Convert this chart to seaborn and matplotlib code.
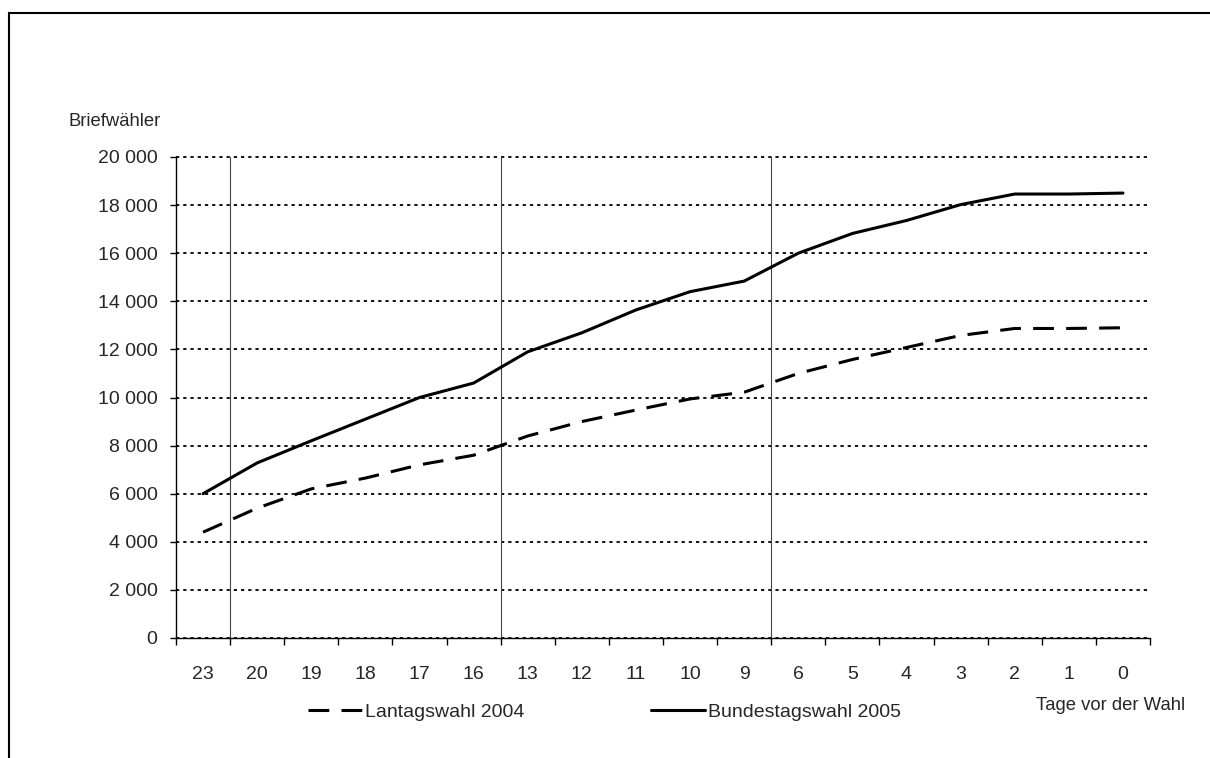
import matplotlib
matplotlib.use('Agg')
import matplotlib.pyplot as plt
import seaborn as sns
from matplotlib.patches import Rectangle

# data
tage = ['23', '20', '19', '18', '17', '16', '13', '12', '11', '10', '9', '6', '5', '4', '3', '2', '1', '0']
landtag_2004 = [4400, 5400, 6200, 6650, 7200, 7600, 8400, 9000, 9480, 9940, 10220,
                11000, 11580, 12080, 12580, 12870, 12870, 12900]
bundestag_2005 = [6000, 7280, 8200, 9100, 10000, 10600, 11900, 12690, 13640, 14400, 14840,
                  16000, 16820, 17360, 18020, 18460, 18460, 18500]
y_ticks = list(range(0, 20001, 2000))
week_breaks = [0.5, 5.5, 10.5]

sns.set_style('white')
plt.rcParams['font.family'] = ['Liberation Sans', 'DejaVu Sans']

W, H = 1210, 758
fig = plt.figure(figsize=(W / 100, H / 100), dpi=100)
ax = fig.add_axes([176 / W, 1 - 638 / H, (1150 - 176) / W, (638 - 157) / H])

#the two curves
sns.lineplot(x=tage, y=landtag_2004, color='black', linewidth=2.2, linestyle=(0, (6.8, 4.0)),
             sort=False, label='Lantagswahl 2004', ax=ax)
sns.lineplot(x=tage, y=bundestag_2005, color='black', linewidth=2.2, sort=False,
             label='Bundestagswahl 2005', ax=ax)

#thin vertical separators between the weeks
for xb in week_breaks:
    ax.axvline(xb, color='#444444', linewidth=0.8, zorder=1)

#axes
ax.set_xlim(-0.5, len(tage) - 0.5)
ax.set_ylim(0, 20000)
ax.set_yticks(y_ticks, labels=[f'{v:,}'.replace(',', ' ') for v in y_ticks])
ax.set_xticks([i - 0.5 for i in range(len(tage) + 1)], labels=[])
ax.set_xticks(range(len(tage)), labels=tage, minor=True)
ax.tick_params(axis='x', which='major', direction='out', length=4.8, width=1, color='black', bottom=True)
ax.tick_params(axis='x', which='minor', length=0, pad=20, labelsize=14)
ax.tick_params(axis='y', direction='out', length=4.3, width=1, color='black', pad=9, labelsize=14, left=True)
ax.set_xlabel('')
ax.set_ylabel('')

ax.grid(False)
ax.yaxis.grid(True, color='black', linestyle=(0, (1.8, 2.2)), linewidth=1.3)
ax.set_axisbelow(True)
#keep the top dotted line at full thickness
for gl in ax.get_ygridlines():
    gl.set_clip_on(False)

for side in ['top', 'right']:
    ax.spines[side].set_visible(False)
for side in ['left', 'bottom']:
    ax.spines[side].set_color('black')
    ax.spines[side].set_linewidth(1)

#legend under the axis
ax.legend(loc='center left', bbox_to_anchor=(308 / W, 1 - 712 / H), bbox_transform=fig.transFigure,
          ncol=2, frameon=False, fontsize=14, handlelength=2.78, handletextpad=0.15,
          columnspacing=6.5, borderpad=0, borderaxespad=0)

#texts
fig.text(69 / W, 1 - 126 / H, 'Briefwähler', fontsize=13.3, ha='left', va='baseline')
fig.text(1185 / W, 1 - 710 / H, 'Tage vor der Wahl', fontsize=13.3, ha='right', va='baseline')

#frame around the picture (only top and left fall inside)
fig.patches.append(Rectangle((8.7 / W, -0.1), 1.2, 1 - 12.7 / H + 0.1, transform=fig.transFigure,
                             fill=False, edgecolor='black', linewidth=1.5))

plt.savefig('out.png', dpi=100)
